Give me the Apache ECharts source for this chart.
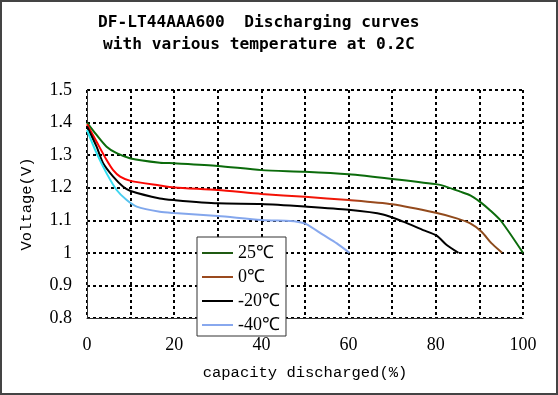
<!DOCTYPE html>
<html>
<head>
<meta charset="utf-8">
<script src="https://cdn.jsdelivr.net/npm/echarts@6/dist/echarts.min.js"></script>
<style>
html,body{margin:0;padding:0;background:#fff;}
#chart{width:558px;height:395px;}
</style>
</head>
<body>
<div id="chart"></div>
<script>
// ---- data ----
var titleLine1 = 'DF-LT44AAA600  Discharging curves';
var titleLine2 = 'with various temperature at 0.2C';
var seriesNames = ['25℃', '0℃', '-20℃', '-40℃'];

var x25 = [0, 2.2, 4.5, 6.8, 10, 16.7, 20, 30, 40, 50, 60, 70, 80, 82, 85.6, 88, 90, 92.5, 95, 100];
var v25 = [1.40, 1.362, 1.326, 1.306, 1.290, 1.277, 1.275, 1.267, 1.254, 1.249, 1.241, 1.227, 1.211, 1.205, 1.188, 1.176, 1.158, 1.13, 1.097, 1.0];

var x0 = [0, 2.2, 4.5, 6, 7.6, 10, 16.7, 20, 30, 40, 50, 60, 70, 80, 84.8, 87.8, 90.5, 92.8, 95.2];
var v0 = [1.395, 1.341, 1.285, 1.254, 1.234, 1.221, 1.207, 1.201, 1.193, 1.181, 1.172, 1.162, 1.149, 1.123, 1.106, 1.091, 1.065, 1.029, 1.0];

var x20 = [0, 2.2, 3.7, 6, 8.3, 10, 16.7, 20, 30, 40, 50, 60, 67.9, 72.5, 77.1, 80.2, 82.5, 85.2];
var v20 = [1.388, 1.326, 1.275, 1.234, 1.203, 1.19, 1.167, 1.162, 1.152, 1.150, 1.142, 1.132, 1.118, 1.096, 1.070, 1.053, 1.024, 1.0];

var x40 = [0, 2.2, 4.5, 6.8, 9.1, 11.4, 16.7, 20, 30, 40, 46.6, 48.5, 50.2, 54.2, 57.3, 60.2];
var v40 = [1.377, 1.306, 1.244, 1.193, 1.162, 1.142, 1.126, 1.122, 1.113, 1.101, 1.098, 1.095, 1.089, 1.055, 1.029, 1.0];

var xTicks = [0, 20, 40, 60, 80, 100];
var yTicks = [0.8, 0.9, 1.0, 1.1, 1.2, 1.3, 1.4, 1.5];

function pairs(xs, ys) { return xs.map(function (x, i) { return [x, ys[i]]; }); }

var chart = echarts.init(document.getElementById('chart'), null, {renderer: 'canvas'});

var grad0 = new echarts.graphic.LinearGradient(0, 0, 1, 0, [
  {offset: 0, color: '#ff0000'}, {offset: 0.6, color: '#f01808'},
  {offset: 0.66, color: '#9a4a1e'}, {offset: 1, color: '#8a4a1a'}]);
var grad40 = new echarts.graphic.LinearGradient(0, 0, 1, 0, [
  {offset: 0, color: '#1ee8f2'}, {offset: 0.12, color: '#3ad8f0'},
  {offset: 0.22, color: '#82a6ec'}, {offset: 1, color: '#88a8ee'}]);

var lineColors = ['#0b6b0b', grad0, '#000000', grad40];
var legendColors = ['#1f5a12', '#9a4a1e', '#000000', '#88a8ee'];
var dataSets = [pairs(x25, v25), pairs(x0, v0), pairs(x20, v20), pairs(x40, v40)];

var option = {
  animation: false,
  backgroundColor: '#ffffff',
  title: [
    {text: titleLine1, left: 98, top: 13, padding: 0,
     textStyle: {fontFamily: 'DejaVu Sans Mono', fontSize: 16.2, fontWeight: 'bold', color: '#000', lineHeight: 20}},
    {text: titleLine2, left: 103, top: 35, padding: 0,
     textStyle: {fontFamily: 'DejaVu Sans Mono', fontSize: 16.2, fontWeight: 'bold', color: '#000', lineHeight: 20}}
  ],
  graphic: [{
    type: 'rect', z: 100, silent: true,
    shape: {x: 1, y: 1, width: 556, height: 393},
    style: {fill: 'none', stroke: '#444', lineWidth: 2}
  }],
  grid: {left: 87, right: 35, top: 90, bottom: 77, containLabel: false},
  legend: {
    show: true,
    orient: 'vertical', left: 197, top: 237,
    icon: 'rect',
    itemWidth: 31, itemHeight: 2, itemGap: 6,
    padding: [7, 6, 2, 5],
    borderColor: '#333', borderWidth: 1, backgroundColor: '#fff',
    textStyle: {fontFamily: 'Liberation Serif', fontSize: 18, lineHeight: 18, color: '#000'},
    data: seriesNames
  },
  xAxis: {
    type: 'value', min: 0, max: 100, interval: 10,
    name: 'capacity discharged(%)', nameLocation: 'middle', nameGap: 47,
    nameTextStyle: {fontFamily: 'Liberation Mono', fontSize: 15.5, color: '#000'},
    axisLine: {show: true, lineStyle: {color: '#333', width: 1}},
    axisTick: {show: false},
    axisLabel: {
      margin: 18, fontFamily: 'Liberation Serif', fontSize: 18, color: '#000',
      formatter: function (v) { return xTicks.indexOf(Math.round(v)) >= 0 && Math.abs(v - Math.round(v)) < 1e-6 ? String(Math.round(v)) : ''; }
    },
    splitLine: {show: true, lineStyle: {color: '#000', width: 2, type: [3, 3]}}
  },
  yAxis: {
    type: 'value', min: 0.8, max: 1.5, interval: 0.1,
    name: 'Voltage(V)', nameLocation: 'middle', nameGap: 52, nameRotate: 90,
    nameTextStyle: {fontFamily: 'Liberation Mono', fontSize: 15.5, color: '#000'},
    axisLine: {show: true, lineStyle: {color: '#333', width: 1}},
    axisTick: {show: false},
    axisLabel: {
      margin: 15, fontFamily: 'Liberation Serif', fontSize: 18, color: '#000',
      formatter: function (v) {
        var r = Math.round(v * 10) / 10;
        for (var i = 0; i < yTicks.length; i++) if (Math.abs(yTicks[i] - r) < 1e-9) return String(Number(r.toFixed(1)));
        return '';
      }
    },
    splitLine: {show: true, lineStyle: {color: '#000', width: 2, type: [3, 3]}}
  },
  series: seriesNames.map(function (n, i) {
    return {
      name: n, type: 'line', data: dataSets[i], smooth: 0.25,
      symbol: 'none', showSymbol: false,
      itemStyle: {color: legendColors[i]},
      lineStyle: {color: lineColors[i], width: 2},
      z: 3
    };
  })
};
chart.setOption(option);
</script>
</body>
</html>
